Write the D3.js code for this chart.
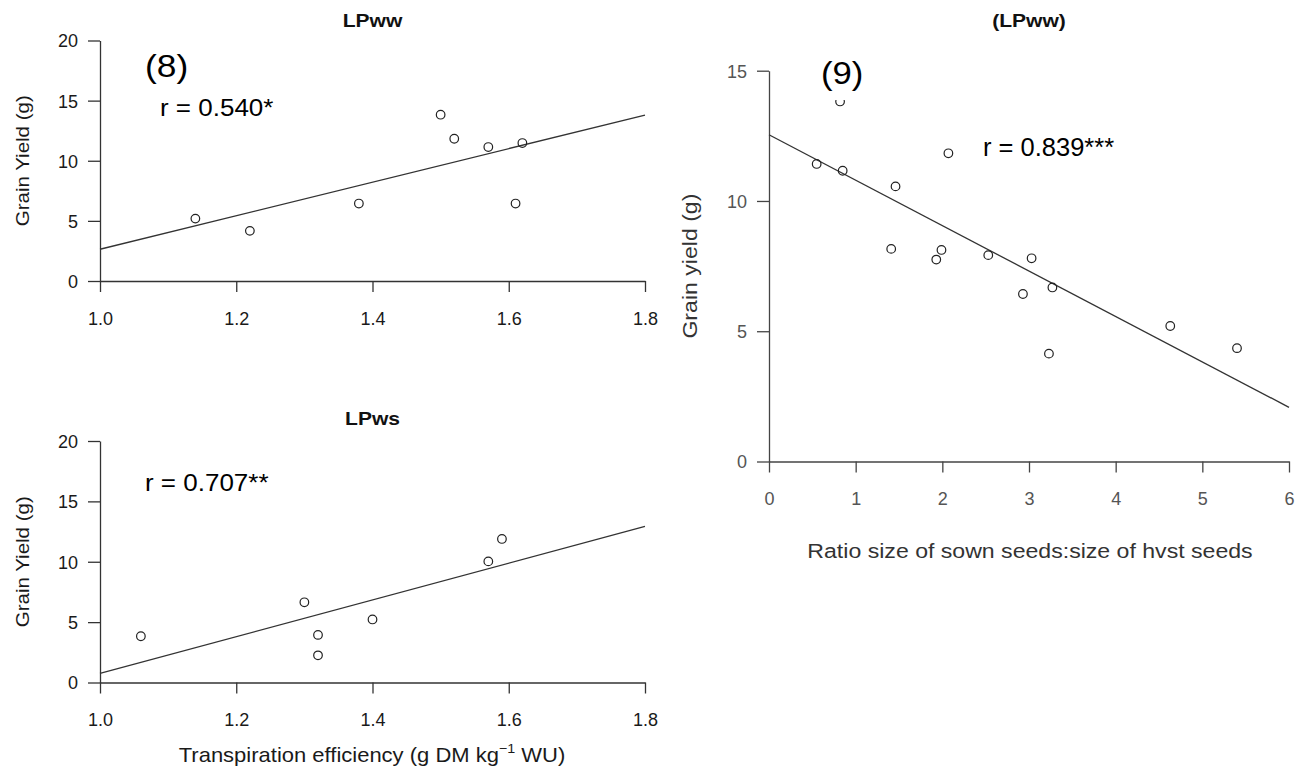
<!DOCTYPE html>
<html>
<head>
<meta charset="utf-8">
<script src="https://cdn.jsdelivr.net/npm/d3@7"></script>
<style>
  body { margin: 0; background: #fff; }
  svg { font-family: "Liberation Sans", Arial, sans-serif; }
  .tick text { fill: #1a1a1a; }
  .right .tick text { fill: #555; }
</style>
</head>
<body>
<div id="chart"></div>
<script>
// panel (8) top: LPww, transpiration efficiency vs grain yield
var teTicks = [1.0, 1.2, 1.4, 1.6, 1.8];
var yieldTicks = [0, 5, 10, 15, 20];
var lpwwTE = [1.14, 1.22, 1.38, 1.50, 1.52, 1.57, 1.62, 1.61];
var lpwwYield = [5.19, 4.17, 6.44, 13.83, 11.83, 11.14, 11.47, 6.44];
var lpwwFit = [2.64, 13.8];   // fitted yield at x = 1.0 and 1.8

// panel (8) bottom: LPws
var lpwsTE = [1.06, 1.30, 1.32, 1.32, 1.40, 1.57, 1.59];
var lpwsYield = [3.83, 6.64, 3.94, 2.25, 5.22, 10.03, 11.89];
var lpwsFit = [0.75, 12.92];

// panel (9): seed size ratio vs grain yield
var ratioTicks = [0, 1, 2, 3, 4, 5, 6];
var ratioYieldTicks = [0, 5, 10, 15];
var ratioSeeds = [0.82, 0.55, 0.85, 2.07, 1.46, 1.41, 1.99, 1.93, 2.53, 3.03, 2.93, 3.27, 3.23, 4.63, 5.40];
var ratioYield = [13.82, 11.42, 11.16, 11.83, 10.56, 8.16, 8.12, 7.75, 7.92, 7.80, 6.43, 6.68, 4.14, 5.20, 4.35];
var ratioFit = [12.54, 2.08];  // fitted yield at x = 0 and 6

var svgWidth = 1305;
var svgHeight = 771;

var svg = d3.select('#chart')
    .append('svg')
    .attr('width', svgWidth)
    .attr('height', svgHeight);

function drawPanel(p) {
    var g = svg.append('g').attr('class', p.cls);

    var x = d3.scaleLinear().domain(p.xDomain).range(p.xRange);
    var y = d3.scaleLinear().domain(p.yDomain).range(p.yRange);

    var xAxis = d3.axisBottom(x)
        .tickValues(p.xTicks)
        .tickFormat(p.xFormat)
        .tickSize(11)
        .tickSizeOuter(0)
        .tickPadding(20);
    var yAxis = d3.axisLeft(y)
        .tickValues(p.yTicks)
        .tickFormat(d3.format('d'))
        .tickSize(12)
        .tickSizeOuter(0)
        .tickPadding(10);

    var xg = g.append('g')
        .attr('transform', `translate(0, ${p.yRange[0]})`)
        .call(xAxis);
    var yg = g.append('g')
        .attr('transform', `translate(${p.xRange[0]}, 0)`)
        .call(yAxis);

    [xg, yg].forEach(function(a) {
        a.selectAll('path, line').attr('stroke', p.axisColor).attr('stroke-width', 1.3);
        a.selectAll('text').attr('font-size', p.tickFont + 'px');
    });
    yg.selectAll('text').attr('dy', '0.36em');

    // regression line
    g.append('line')
        .attr('x1', x(p.xDomain[0]))
        .attr('y1', y(p.fit[0]))
        .attr('x2', x(p.xDomain[1]))
        .attr('y2', y(p.fit[1]))
        .attr('stroke', '#333')
        .attr('stroke-width', 1.3);

    var pts = p.xs.map(function(d, i) { return {x: d, y: p.ys[i]}; });
    g.selectAll('circle')
        .data(pts)
        .enter()
        .append('circle')
        .attr('cx', d => x(d.x))
        .attr('cy', d => y(d.y))
        .attr('r', 4.3)
        .attr('fill', 'none')
        .attr('stroke', '#222')
        .attr('stroke-width', 1.2);

    // panel title
    g.append('text')
        .attr('transform', `translate(${(p.xRange[0] + p.xRange[1]) / 2}, ${p.titleY}) scale(1.17, 1)`)
        .attr('text-anchor', 'middle')
        .attr('font-weight', 'bold')
        .attr('font-size', '18px')
        .attr('fill', '#111')
        .text(p.title);

    // y axis title
    g.append('text')
        .attr('transform', `translate(${p.yLabelX}, ${(p.yRange[0] + p.yRange[1]) / 2}) rotate(-90) scale(${p.labelScale}, 1)`)
        .attr('text-anchor', 'middle')
        .attr('dy', '0.35em')
        .attr('font-size', p.labelFont + 'px')
        .attr('fill', p.labelColor)
        .text(p.yLabel);

    return g;
}

var panelTop = drawPanel({
    cls: 'left', xDomain: [1.0, 1.8], yDomain: [0, 20],
    xRange: [100, 645], yRange: [281, 40.5],
    xTicks: teTicks, yTicks: yieldTicks, xFormat: d3.format('.1f'),
    xs: lpwwTE, ys: lpwwYield, fit: lpwwFit,
    title: 'LPww', titleY: 27, yLabel: 'Grain Yield (g)', yLabelX: 22,
    tickFont: 18, labelFont: 19, labelScale: 1.08, labelColor: '#1a1a1a', axisColor: '#333'
});

var panelBottom = drawPanel({
    cls: 'left', xDomain: [1.0, 1.8], yDomain: [0, 20],
    xRange: [100, 645], yRange: [682.5, 441],
    xTicks: teTicks, yTicks: yieldTicks, xFormat: d3.format('.1f'),
    xs: lpwsTE, ys: lpwsYield, fit: lpwsFit,
    title: 'LPws', titleY: 425, yLabel: 'Grain Yield (g)', yLabelX: 22,
    tickFont: 18, labelFont: 19, labelScale: 1.08, labelColor: '#1a1a1a', axisColor: '#333'
});

var panelRight = drawPanel({
    cls: 'right', xDomain: [0, 6], yDomain: [0, 15],
    xRange: [769, 1289], yRange: [461.5, 70.7],
    xTicks: ratioTicks, yTicks: ratioYieldTicks, xFormat: d3.format('d'),
    xs: ratioSeeds, ys: ratioYield, fit: ratioFit,
    title: '(LPww)', titleY: 27, yLabel: 'Grain yield (g)', yLabelX: 690,
    tickFont: 18, labelFont: 21, labelScale: 1.1, labelColor: '#333', axisColor: '#444'
});

panelBottom.append('text')
    .attr('transform', 'translate(372, 762) scale(1.1, 1)')
    .attr('text-anchor', 'middle')
    .attr('font-size', '20px')
    .attr('fill', '#1a1a1a')
    .html('Transpiration efficiency (g DM kg<tspan dy="-9" font-size="13px">−1</tspan><tspan dy="9"> WU)</tspan>');

panelRight.append('text')
    .attr('transform', 'translate(1030, 558) scale(1.1, 1)')
    .attr('text-anchor', 'middle')
    .attr('font-size', '21px')
    .attr('fill', '#333')
    .text('Ratio size of sown seeds:size of hvst seeds');

// panel labels and correlation notes
function note(g, txt, x, y, size, sx) {
    g.append('text')
        .attr('transform', `translate(${x}, ${y}) scale(${sx}, 1)`)
        .attr('font-size', size + 'px')
        .attr('fill', '#000')
        .text(txt);
}

// white patch behind "(9)", it hides the top of the highest point
panelRight.append('rect')
    .attr('x', 815).attr('y', 48).attr('width', 56).attr('height', 52)
    .attr('fill', '#fff');

note(panelTop, '(8)', 145, 77, 31, 1.14);
note(panelTop, 'r = 0.540*', 160, 116, 23, 1.13);
note(panelBottom, 'r = 0.707**', 145, 491, 23, 1.13);
note(panelRight, '(9)', 821, 84, 31, 1.12);
note(panelRight, 'r = 0.839***', 983, 156, 25, 1.02);
</script>
</body>
</html>
